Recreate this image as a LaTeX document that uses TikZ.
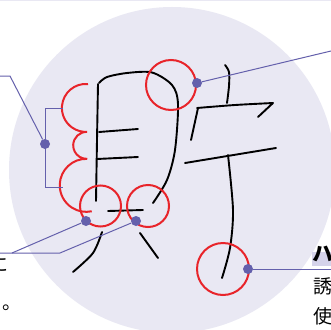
\documentclass[tikz,border=0pt]{standalone}
\usepackage{fontspec}
\newfontfamily\jp{Noto Sans CJK JP}
\definecolor{fondo}{RGB}{233,232,243}
\definecolor{rojo}{RGB}{232,36,42}
\definecolor{azul}{RGB}{100,96,172}
\definecolor{resalte}{RGB}{213,211,234}
\begin{document}
\begin{tikzpicture}[x=1pt,y=-1pt,
    trazo/.style={line width=1.9pt,line cap=round,line join=round},
    marca/.style={draw=rojo,line width=2pt},
    guia/.style={draw=azul,line width=1pt},
    punto/.style={circle,fill=azul,inner sep=0pt,minimum size=10pt},
    texto/.style={anchor=base west,inner sep=0pt,font=\jp\fontsize{19}{19}\selectfont}]
    \useasboundingbox (0,0) rectangle (331,329);
    \fill[white] (0,0) rectangle (331,329);

    % Franja superior
    \fill[fondo] (0,0) rectangle (331,1.5);

    % Circulo de fondo
    \fill[fondo] (172,170) circle (163);

    % Caracter: parte izquierda
    \draw[trazo] plot[smooth] coordinates {(98,84) (97,140) (96,201)};
    \draw[trazo] plot[smooth] coordinates {(99,83) (107,77) (127,73) (152,72.5) (172,85) (178,104) (175,150) (167,180) (153,203)};
    \draw[trazo] (99,132) -- (138,129);
    \draw[trazo] (97,159) -- (138,157);
    \draw[trazo] (108,211) -- (143,210);
    \draw[trazo] plot[smooth] coordinates {(102,232) (93,253) (73,272)};
    \draw[trazo] (140,233) -- (158,258);

    % Caracter: parte derecha
    \draw[trazo] plot[smooth] coordinates {(225,65) (229,72) (229,86) (227,103)};
    \draw[trazo] (198,108) -- (191,140);
    \draw[trazo] plot[smooth] coordinates {(197,108) (235,105) (273,103)} -- (258,117);
    \draw[trazo] (185,163) -- (276,148);
    \draw[trazo] plot[smooth] coordinates {(228,155) (233,210) (230,248) (222,278)};

    % Marcas rojas
    \draw[marca] (171,85) circle (25);
    \draw[marca] (100.5,206) circle (20.5);
    \draw[marca] (148,206) circle (21);
    \draw[marca] (223,269) circle (26);
    \draw[marca] (88,84) arc[start angle=275,end angle=87,radius=24]
        arc[start angle=272,end angle=88,radius=13.5]
        arc[start angle=272,end angle=78,radius=26.5];

    % Puntos
    \node[punto] (arriba) at (197,83) {};
    \node[punto] (llave) at (45,144) {};
    \node[punto] (pieA) at (86,221) {};
    \node[punto] (pieB) at (136,221) {};
    \node[punto] (gancho) at (248,269) {};

    % Lineas guia
    \coordinate (arribaFin) at (331,51);
    \coordinate (llaveCodo) at (10,76);
    \coordinate (llaveFin) at (-2,76);
    \coordinate (pieCodoA) at (12,253);
    \coordinate (pieCodoB) at (60,253);
    \coordinate (pieFin) at (-2,253);
    \coordinate (ganchoFin) at (333,269);
    \draw[guia] (arriba) -- (arribaFin);
    \draw[guia] (63,108) -- (45,108) -- (45,187) -- (63,187);
    \draw[guia] (llave) -- (llaveCodo) -- (llaveFin);
    \draw[guia] (pieA) -- (pieCodoA) -- (pieFin);
    \draw[guia] (pieB) -- (pieCodoB) -- (pieCodoA);
    \draw[guia] (gancho) -- (ganchoFin);

    % Textos a la derecha
    \fill[resalte] (312,252) rectangle (331,266);
    \node[texto,font=\jp\bfseries\fontsize{21}{21}\selectfont] (titulo) at (312,261) {ハ};
    \node[texto] (linea1) at (313,293.5) {誘};
    \node[texto] (linea2) at (313,323.5) {使};

    % Textos a la izquierda
    \node[texto] (izq1) at (-11,271) {に};
    \node[texto] (izq2) at (2,309) {。};
\end{tikzpicture}
\end{document}
